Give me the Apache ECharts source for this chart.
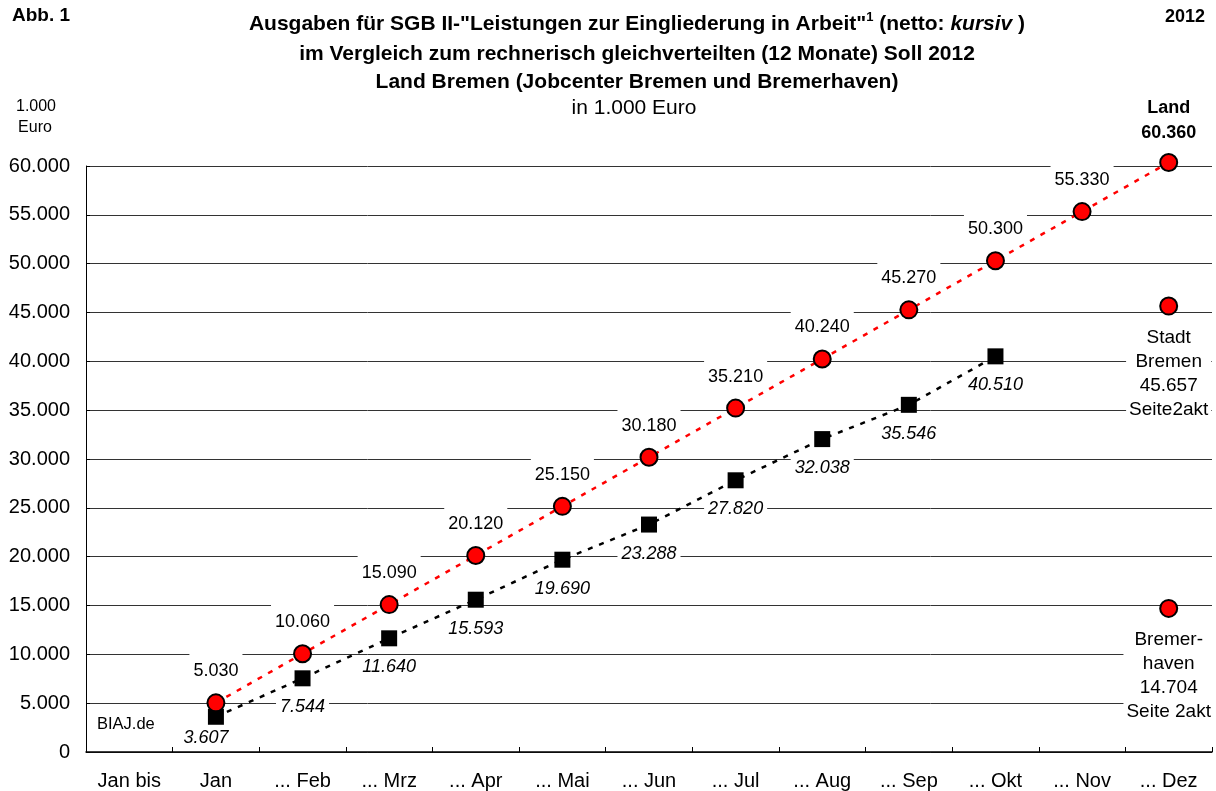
<!DOCTYPE html>
<html>
<head>
<meta charset="utf-8">
<script src="https://cdn.jsdelivr.net/npm/echarts@6/dist/echarts.min.js"></script>
<style>
html,body{margin:0;padding:0;background:#fff;}
#chart{width:1216px;height:791px;}
</style>
</head>
<body>
<div id="chart"></div>
<script>
const categories = ['Jan bis', 'Jan', '... Feb', '... Mrz', '... Apr', '... Mai', '... Jun', '... Jul', '... Aug', '... Sep', '... Okt', '... Nov', '... Dez'];
const sollValues = [null, 5030, 10060, 15090, 20120, 25150, 30180, 35210, 40240, 45270, 50300, 55330, 60360];
const istValues = [null, 3607, 7544, 11640, 15593, 19690, 23288, 27820, 32038, 35546, 40510, null, null];
const stadtBremenValue = [12, 45657];
const bremerhavenValue = [12, 14704];
const yMin = 0, yMax = 60000, yInterval = 5000;

const FONT = "'Liberation Sans', Arial, sans-serif";
function fmt(v) {
  const s = String(Math.round(v));
  return s.replace(/\B(?=(\d{3})+(?!\d))/g, '.');
}

const sollData = sollValues.map((v, i) => {
  if (i === sollValues.length - 1 && v != null) {
    return {
      value: v,
      label: {
        formatter: p => 'Land\n' + fmt(p.value),
        fontWeight: 'bold',
        lineHeight: 25,
        backgroundColor: 'transparent',
        padding: [0, 4, 2, 4],
        distance: 5
      }
    };
  }
  return v;
});

const istData = istValues.map((v, i) => {
  if (i === 1 && v != null) {
    return {value: v, label: {distance: 1, offset: [-10, 0], backgroundColor: 'transparent'}};
  }
  return v;
});

const chart = echarts.init(document.getElementById('chart'), null, {renderer: 'canvas'});
chart.setOption({
  animation: false,
  backgroundColor: '#fff',
  textStyle: {fontFamily: FONT},
  grid: {left: 86, right: 4, top: 166, bottom: 39, containLabel: false},
  xAxis: {
    type: 'category',
    data: categories,
    boundaryGap: true,
    axisLine: {lineStyle: {color: '#000', width: 1.5}},
    axisTick: {show: true, inside: true, length: 5, lineStyle: {color: '#000', width: 1}},
    axisLabel: {color: '#000', fontSize: 20, fontFamily: FONT, margin: 19, interval: 0},
    splitLine: {show: false}
  },
  yAxis: {
    type: 'value',
    min: yMin, max: yMax, interval: yInterval,
    axisLine: {show: true, lineStyle: {color: '#000', width: 1}},
    axisTick: {show: true, inside: true, length: 4, lineStyle: {color: '#000'}},
    axisLabel: {color: '#000', fontSize: 20, fontFamily: FONT, margin: 16, formatter: v => fmt(v)},
    splitLine: {show: true, lineStyle: {color: '#333', width: 1}}
  },
  graphic: [
    {type: 'text', style: {x: 12, y: 16, text: 'Abb. 1', fontSize: 19, fontWeight: 'bold', fontFamily: FONT, fill: '#000', align: 'left', verticalAlign: 'middle'}},
    {type: 'text', style: {x: 1205, y: 17, text: '2012', fontSize: 18, fontWeight: 'bold', fontFamily: FONT, fill: '#000', align: 'right', verticalAlign: 'middle'}},
    {type: 'text', style: {x: 637, y: 24, text: 'Ausgaben für SGB II-"Leistungen zur Eingliederung in Arbeit"{sup|1} (netto: {it|kursiv} )',
      fontSize: 21, fontWeight: 'bold', fontFamily: FONT, fill: '#000', align: 'center', verticalAlign: 'middle',
      rich: {
        sup: {fontSize: 13, fontWeight: 'bold', fontFamily: FONT, fill: '#000', padding: [0, 0, 14, 0]},
        it: {fontSize: 21, fontWeight: 'bold', fontStyle: 'italic', fontFamily: FONT, fill: '#000'}
      }}},
    {type: 'text', style: {x: 637, y: 54, text: 'im Vergleich zum rechnerisch gleichverteilten (12 Monate) Soll 2012', fontSize: 21, fontWeight: 'bold', fontFamily: FONT, fill: '#000', align: 'center', verticalAlign: 'middle'}},
    {type: 'text', style: {x: 637, y: 82, text: 'Land Bremen (Jobcenter Bremen und Bremerhaven)', fontSize: 21, fontWeight: 'bold', fontFamily: FONT, fill: '#000', align: 'center', verticalAlign: 'middle'}},
    {type: 'text', style: {x: 634, y: 108, text: 'in 1.000 Euro', fontSize: 21, fontFamily: FONT, fill: '#000', align: 'center', verticalAlign: 'middle'}},
    {type: 'text', style: {x: 36, y: 107, text: '1.000', fontSize: 16, fontFamily: FONT, fill: '#000', align: 'center', verticalAlign: 'middle'}},
    {type: 'text', style: {x: 35, y: 128, text: 'Euro', fontSize: 16, fontFamily: FONT, fill: '#000', align: 'center', verticalAlign: 'middle'}},
    {type: 'text', style: {x: 97, y: 724, text: 'BIAJ.de', fontSize: 16.5, fontFamily: FONT, fill: '#000', align: 'left', verticalAlign: 'middle'}}
  ],
  series: [
    {
      name: 'Ist (netto)',
      type: 'line',
      data: istData,
      clip: false,
      symbol: 'rect',
      symbolSize: 16,
      itemStyle: {color: '#000'},
      lineStyle: {color: '#000', width: 2.5, type: [5, 7]},
      label: {
        show: true, position: 'bottom', distance: 9,
        formatter: p => fmt(p.value),
        fontSize: 18, fontStyle: 'italic', fontFamily: FONT, color: '#000',
        lineHeight: 20, backgroundColor: '#fff', padding: [2, 4, 2, 4]
      },
      z: 2
    },
    {
      name: 'Soll',
      type: 'line',
      data: sollData,
      clip: false,
      symbol: 'circle',
      symbolSize: 17,
      itemStyle: {color: '#ff0000', borderColor: '#000', borderWidth: 2},
      lineStyle: {color: '#ff0000', width: 2.5, type: [5, 7]},
      label: {
        show: true, position: 'top', distance: 10,
        formatter: p => fmt(p.value),
        fontSize: 18, fontFamily: FONT, color: '#000',
        lineHeight: 20, backgroundColor: '#fff', padding: [8, 4, 2, 4]
      },
      z: 3
    },
    {
      name: 'Stadt Bremen',
      type: 'scatter',
      data: [stadtBremenValue],
      symbol: 'circle',
      symbolSize: 17,
      itemStyle: {color: '#ff0000', borderColor: '#000', borderWidth: 2, opacity: 1},
      label: {
        show: true, position: 'bottom', distance: 8,
        formatter: p => 'Stadt\nBremen\n' + fmt(p.value[1]) + '\nSeite2akt',
        fontSize: 19, fontFamily: FONT, color: '#000', align: 'center',
        lineHeight: 24, backgroundColor: '#fff', padding: [2, 3, 2, 3]
      },
      z: 3
    },
    {
      name: 'Bremerhaven',
      type: 'scatter',
      data: [bremerhavenValue],
      symbol: 'circle',
      symbolSize: 17,
      itemStyle: {color: '#ff0000', borderColor: '#000', borderWidth: 2, opacity: 1},
      label: {
        show: true, position: 'bottom', distance: 8,
        formatter: p => 'Bremer-\nhaven\n' + fmt(p.value[1]) + '\nSeite 2akt',
        fontSize: 19, fontFamily: FONT, color: '#000', align: 'center',
        lineHeight: 24, backgroundColor: '#fff', padding: [2, 3, 2, 3]
      },
      z: 3
    }
  ]
});
</script>
</body>
</html>
